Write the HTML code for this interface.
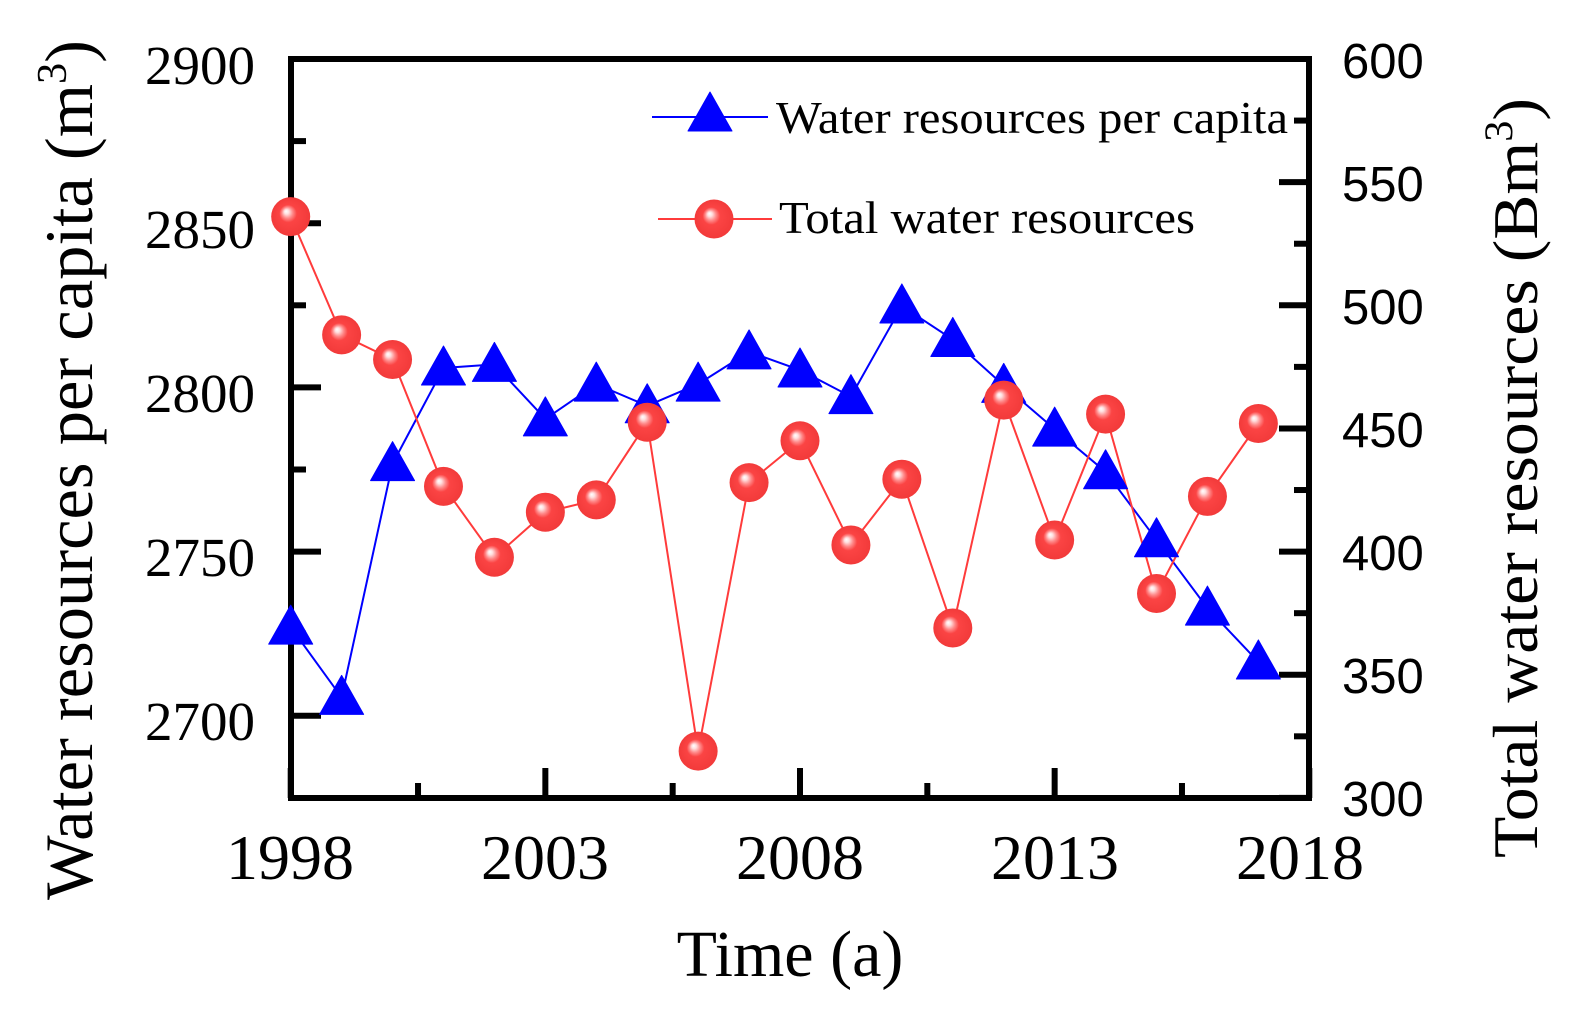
<!DOCTYPE html>
<html><head><meta charset="utf-8"><style>
html,body{margin:0;padding:0;background:#fff;}
svg{display:block;}
</style></head><body>
<svg id="s" width="1584" height="1010" xmlns="http://www.w3.org/2000/svg">
<defs>
<radialGradient id="rg" cx="0.5" cy="0.5" r="0.5" fx="0.38" fy="0.36">
<stop offset="0" stop-color="#ffffff"/>
<stop offset="0.12" stop-color="#ffe0e0"/>
<stop offset="0.28" stop-color="#ff8a8a"/>
<stop offset="0.45" stop-color="#fb4444"/>
<stop offset="1" stop-color="#f23a3a"/>
</radialGradient>
</defs>
<g id="g"></g>
<g font-family="Liberation Serif, serif" fill="#000">
<g font-size="55" text-anchor="end">
<text x="255" y="84">2900</text>
<text x="255" y="248">2850</text>
<text x="255" y="412">2800</text>
<text x="255" y="576">2750</text>
<text x="255" y="740">2700</text>
</g>
<g font-size="64" text-anchor="middle">
<text x="290" y="879">1998</text>
<text x="545" y="879">2003</text>
<text x="800" y="879">2008</text>
<text x="1055" y="879">2013</text>
<text x="1300" y="879">2018</text>
</g>
<text x="790" y="976" font-size="66" text-anchor="middle">Time (a)</text>
<text transform="translate(92,470) rotate(-90)" font-size="68" text-anchor="middle" textLength="860" lengthAdjust="spacingAndGlyphs">Water resources per capita (m<tspan font-size="42" dy="-26">3</tspan><tspan dy="26">)</tspan></text>
<text transform="translate(1537,478) rotate(-90)" font-size="64" text-anchor="middle" textLength="760" lengthAdjust="spacingAndGlyphs">Total water resources (Bm<tspan font-size="40" dy="-25">3</tspan><tspan dy="25">)</tspan></text>
<text x="776" y="133" font-size="45" textLength="512" lengthAdjust="spacingAndGlyphs">Water resources per capita</text>
<text x="779" y="233" font-size="45" textLength="416" lengthAdjust="spacingAndGlyphs">Total water resources</text>
</g>
<g font-family="Liberation Sans, sans-serif" font-size="49" fill="#000">
<text x="1342" y="78">600</text>
<text x="1342" y="201">550</text>
<text x="1342" y="324">500</text>
<text x="1342" y="447">450</text>
<text x="1342" y="570">400</text>
<text x="1342" y="693">350</text>
<text x="1342" y="816">300</text>
</g>
</svg>
<script>
var g=document.getElementById('g'),h='';
var X0=290.7,DX=50.93,T=59,B=798,L=291,R=1309;
function x(y){return X0+(y-1998)*DX;}
function yL(v){return T+(2900-v)*3.284;}
function yR(v){return T+(600-v)*2.463;}
h+='<rect x="'+L+'" y="'+T+'" width="'+(R-L)+'" height="'+(B-T)+'" fill="none" stroke="#000" stroke-width="6"/>';
for(var v=2700;v<=2900;v+=25){var yy=yL(v);var len=(v%50==0)?30:15;h+='<line x1="'+L+'" x2="'+(L+len)+'" y1="'+yy+'" y2="'+yy+'" stroke="#000" stroke-width="6"/>';}
for(var v=300;v<=600;v+=25){var yy=yR(v);var len=(v%50==0)?30:15;h+='<line x1="'+R+'" x2="'+(R-len)+'" y1="'+yy+'" y2="'+yy+'" stroke="#000" stroke-width="6"/>';}
for(var yr=1998;yr<=2018;yr+=2.5){var xx=x(yr);var len=((yr-1998)%5==0)?30:15;h+='<line x1="'+xx+'" x2="'+xx+'" y1="'+B+'" y2="'+(B-len)+'" stroke="#000" stroke-width="6"/>';}
var blue=[2727,2705.6,2776.8,2805.9,2807,2790.4,2801,2794.4,2801,2810.8,2805.3,2797.2,2824.8,2814.6,2800.6,2787.3,2774.3,2753.6,2732.8,2716.4];
var red=[536,488,478,426.5,397.7,416,421,452.5,319,428,445,402.7,429.4,369,461.5,404.7,455.8,383,422.4,452];
var pb=blue.map(function(v,i){return x(1998+i).toFixed(1)+','+yL(v).toFixed(1)}).join(' ');
var pr=red.map(function(v,i){return x(1998+i).toFixed(1)+','+yR(v).toFixed(1)}).join(' ');
h+='<polyline points="'+pb+'" fill="none" stroke="#0000ff" stroke-width="2"/>';
h+='<polyline points="'+pr+'" fill="none" stroke="#ff3b3b" stroke-width="2"/>';
function tri(cx,cy){return '<polygon points="'+cx+','+(cy-22)+' '+(cx-22)+','+(cy+17)+' '+(cx+22)+','+(cy+17)+'" fill="#0000ff" stroke="#0000ff" stroke-width="1" stroke-linejoin="round"/>';}
function circ(cx,cy){return '<circle cx="'+cx+'" cy="'+cy+'" r="19.5" fill="url(#rg)"/>';}
blue.forEach(function(v,i){h+=tri(x(1998+i),yL(v));});
red.forEach(function(v,i){h+=circ(x(1998+i),yR(v));});
h+='<line x1="652" x2="768" y1="117" y2="117" stroke="#0000ff" stroke-width="2"/>'+tri(710,114);
h+='<line x1="658" x2="772" y1="219" y2="219" stroke="#ff3b3b" stroke-width="2"/>'+circ(714,219);
g.innerHTML=h;
</script>
</body></html>
